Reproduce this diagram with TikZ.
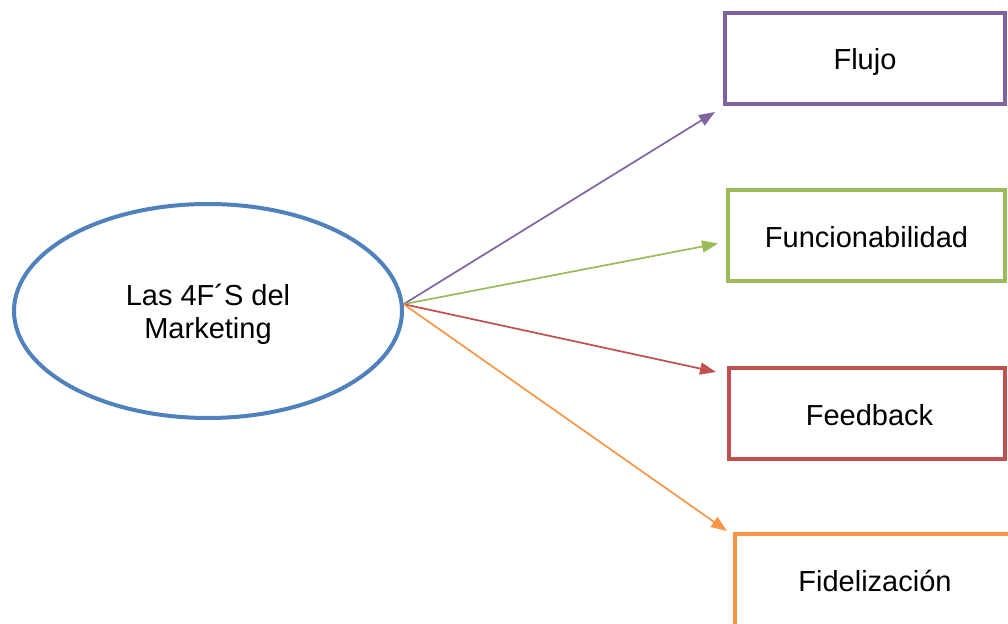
\documentclass[tikz,border=0pt]{standalone}
\usepackage{fontspec}
\setmainfont{Liberation Sans}
\usetikzlibrary{shapes.geometric,arrows.meta}
\definecolor{cblue}{HTML}{4F81BD}
\definecolor{cpurple}{HTML}{8064A2}
\definecolor{cgreen}{HTML}{9BBB59}
\definecolor{cred}{HTML}{C0504D}
\definecolor{corange}{HTML}{F79646}
% move a label down by #1, keeping the node's size
\newcommand{\lowered}[2][4pt]{\raisebox{-#1}[\height][\depth]{#2}}
\tikzset{
  lbl/.style={font=\fontsize{29}{33}\selectfont, text=black},
  fbox/.style={draw=#1, line width=4pt, rectangle, inner sep=0pt, lbl},
  link/.style={draw=#1, line width=1.7pt, -{Triangle[length=16pt,width=12pt]}, fill=#1},
}
\begin{document}
\begin{tikzpicture}[x=1pt,y=-1pt]
  \clip (0,0) rectangle (1008,623);
  \fill[white] (0,0) rectangle (1008,623);

  % central ellipse
  \node[ellipse, draw=cblue, line width=4pt, minimum width=388pt, minimum height=214pt,
        inner sep=0pt, lbl] (ell) at (208,311)
        {\lowered{\begin{tabular}{@{}c@{}}Las 4F´S del\\Marketing\end{tabular}}};

  % the four boxes
  \node[fbox=cpurple, minimum width=280pt, minimum height=91pt] (flujo) at (865,58.5) {\lowered{Flujo}};
  \node[fbox=cgreen, minimum width=277pt, minimum height=91pt] (func) at (866.5,235.5) {\lowered[2pt]{Funcionabilidad}};
  \node[fbox=cred, minimum width=276pt, minimum height=91pt] (feed) at (867,413.5) {\lowered[2pt]{\hspace{5pt}Feedback}};
  \node[fbox=corange, minimum width=280pt, minimum height=94pt] (fid) at (875,581) {\lowered[0pt]{Fidelización}};

  % connectors from the ellipse
  \coordinate (hub) at (ell.2.4);
  \draw[link=cpurple] (hub) -- ([shift={(-8,6)}]flujo.south west);
  \draw[link=cgreen]  (hub) -- ([shift={(-8,8)}]func.west);
  \draw[link=cred]    (hub) -- ([shift={(-11,6)}]feed.north west);
  \draw[link=corange] (hub) -- ([shift={(-6,-1)}]fid.north west);
\end{tikzpicture}
\end{document}
